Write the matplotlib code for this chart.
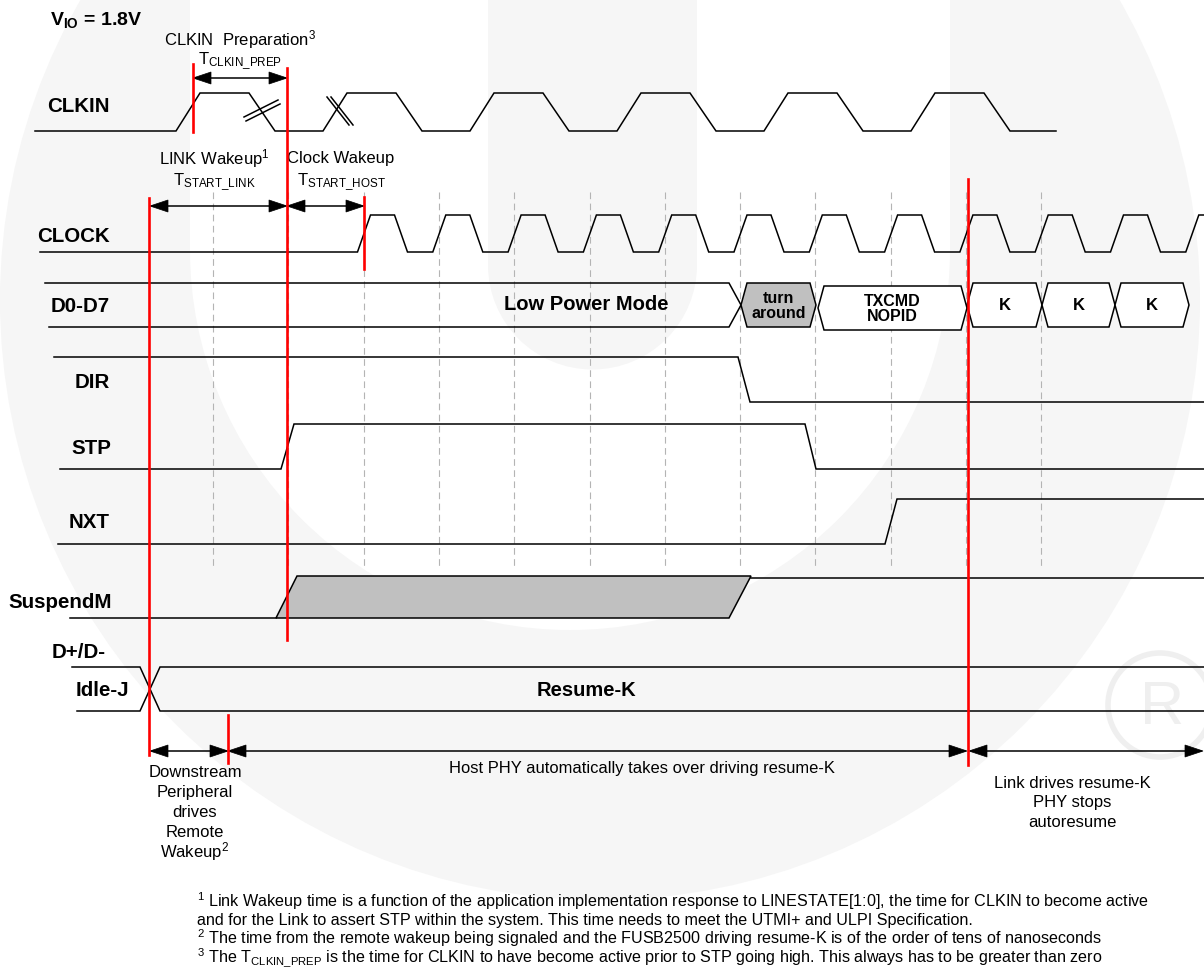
import matplotlib
matplotlib.use("Agg")
import matplotlib.pyplot as plt
from matplotlib.patches import Polygon, Circle, Rectangle
import numpy as np

plt.rcParams["font.family"] = ["Liberation Sans", "DejaVu Sans"]
plt.rcParams["mathtext.fontset"] = "custom"
plt.rcParams["mathtext.rm"] = "Liberation Sans"
plt.rcParams["mathtext.it"] = "Liberation Sans"
plt.rcParams["mathtext.bf"] = "Liberation Sans:bold"

# ---- data (x positions in diagram pixels) ----
signal_names = ["CLKIN", "CLOCK", "D0-D7", "DIR", "STP", "NXT", "SuspendM", "D+/D-", "Idle-J"]
clkin_rise_starts = [176, 323, 470, 617, 764, 911]
clock_rise_centers = [364 + 75.3 * k for k in range(12)]
grid_x = [213 + 75.3 * k for k in range(12)]
bus_labels = ["Low Power Mode", "turn\naround", "TXCMD\nNOPID", "K", "K", "K"]
bus_bounds = [(45, 741), (741, 816), (818, 967), (967, 1042), (1042, 1115), (1115, 1189)]
dir_fall = (738, 750)
stp_rise = (281, 294)
stp_fall = (805, 816)
nxt_rise = (885, 897)
susp_ramp = [(276, 297), (729, 751)]
dpdm_cross = (140, 160)
red_marks = [(193, 64, 132), (287, 68, 640), (149, 198, 755), (364, 197, 269),
             (228, 715, 763), (968, 179, 765)]
span_arrows_top = [(193, 287, 78), (150, 287, 206), (287, 364, 206)]
span_arrows_bottom = [(150, 228, 751), (228, 967, 751), (969, 1203, 751)]
remote_wakeup_lines = ["Downstream", "Peripheral", "drives", "Remote", "Wakeup$^2$"]
link_drives_lines = ["Link drives resume-K", "PHY stops", "autoresume"]
footnotes = [
    r"$^1$ Link Wakeup time is a function of the application implementation response to LINESTATE[1:0], the time for CLKIN to become active",
    "and for the Link to assert STP within the system. This time needs to meet the UTMI+ and ULPI Specification.",
    r"$^2$ The time from the remote wakeup being signaled and the FUSB2500 driving resume-K is of the order of tens of nanoseconds",
    r"$^3$ The T$_{\mathrm{CLKIN\_PREP}}$ is the time for CLKIN to have become active prior to STP going high. This always has to be greater than zero",
]

W, H = 1204, 973
fig = plt.figure(figsize=(W / 100, H / 100), dpi=100)
ax = fig.add_axes([0, 0, 1, 1])
ax.set_xlim(0, W)
ax.set_ylim(H, 0)
ax.axis("off")

# ---- faint watermark ----
wm = "#f6f6f6"
ax.add_patch(Circle((600, 300), 600, color=wm, lw=0, zorder=0))
ax.add_patch(Rectangle((190, -10), 760, 260, color="white", lw=0, zorder=0.1))
ax.add_patch(Circle((570, 250), 380, color="white", lw=0, zorder=0.1))
ax.add_patch(Rectangle((488, -10), 209, 275, color=wm, lw=0, zorder=0.2))
ax.add_patch(Circle((592.5, 265), 104.5, color=wm, lw=0, zorder=0.2))
ax.add_patch(Circle((1160, 705), 52, fill=False, ec="#efefef", lw=4, zorder=0.3))
ax.text(1162, 708, "R", fontsize=44, color="#efefef", ha="center", va="center", zorder=0.3)

LW = 1.1
K = "black"


def line(xs, ys, **kw):
    ax.plot(xs, ys, color=kw.pop("color", K), lw=kw.pop("lw", LW), solid_joinstyle="miter", **kw)


# ---- grid ----
for gx in grid_x:
    ax.plot([gx, gx], [192, 567], color="#b4b4b4", lw=0.8, ls=(0, (6, 4)), zorder=1)

# ---- CLKIN ----
hi, lo = 93, 131
xs, ys = [35], [lo]
for t in clkin_rise_starts:
    xs += [t, t + 24, t + 73, t + 99]
    ys += [lo, hi, hi, lo]
xs.append(1056)
ys.append(lo)
line(xs, ys, zorder=3)
# break marks
for d in (0, 4):
    line([244 + d * 0.5, 278 + d * 0.5], [117 + d, 100 + d], zorder=3)
    line([327 + d, 349 + d], [97, 125], zorder=3)

# ---- CLOCK ----
hi, lo = 215, 252
xs, ys = [40], [lo]
for c in clock_rise_centers:
    xs += [c - 6.5, c + 6.5, c + 30.5, c + 43.5]
    ys += [lo, hi, hi, lo]
xs, ys = np.array(xs), np.array(ys)
line(xs, ys, zorder=3)

# ---- D0-D7 bus ----
yt, yb, ym = 283, 327, 305
x0, x1 = bus_bounds[0]
line([x0, x1 - 12, x1, x1 - 12, x0 + 4], [yt, yt, ym, yb, yb], zorder=3)
ax.text(586, ym, bus_labels[0], fontsize=14.5, fontweight="bold", ha="center", va="center", zorder=4)
for (a, b), lab in zip(bus_bounds[1:], bus_labels[1:]):
    t, bt = (yt, yb) if lab != "TXCMD\nNOPID" else (286, 330)
    m = (t + bt) / 2
    fill = "#c0c0c0" if lab.startswith("turn") else "white"
    ax.add_patch(Polygon([(a, m), (a + 6, t), (b - 6, t), (b, m), (b - 6, bt), (a + 6, bt)],
                         closed=True, fc=fill, ec=K, lw=LW, zorder=3))
    ax.text((a + b) / 2, m + 1, lab, fontsize=11.5 if "\n" in lab else 12, fontweight="bold",
            ha="center", va="center", linespacing=1.05, zorder=4)

# ---- DIR / STP / NXT ----
line([54, dir_fall[0], dir_fall[1], W], [357, 357, 402, 402], zorder=3)
line([60, stp_rise[0], stp_rise[1], stp_fall[0], stp_fall[1], W], [469, 469, 424, 424, 469, 469], zorder=3)
line([58, nxt_rise[0], nxt_rise[1], W], [544, 544, 499, 499], zorder=3)

# ---- SuspendM ----
line([70, susp_ramp[0][0]], [618, 618], zorder=3)
ax.add_patch(Polygon([(susp_ramp[0][0], 618), (susp_ramp[0][1], 576), (susp_ramp[1][1], 576),
                      (susp_ramp[1][0], 618)], closed=True, fc="#c0c0c0", ec=K, lw=LW, zorder=3))
line([susp_ramp[1][1], W], [578, 578], zorder=3)

# ---- D+/D- ----
a, b = dpdm_cross
line([72, a, b, W], [667, 667, 711, 711], zorder=3)
line([77, a, b, W], [711, 711, 667, 667], zorder=3)
ax.text(586, 690, "Resume-K", fontsize=14.5, fontweight="bold", ha="center", va="center", zorder=4)

# ---- signal labels ----
label_pos = {"CLKIN": (47, 107), "CLOCK": (37, 237), "D0-D7": (51, 306), "DIR": (75, 382),
             "STP": (71, 448), "NXT": (69, 522), "SuspendM": (8, 602), "D+/D-": (52, 652),
             "Idle-J": (76, 690)}
for name in signal_names:
    x, y = label_pos[name]
    ax.text(x, y, name, fontsize=14.8, fontweight="bold", ha="left", va="center", zorder=4)


# ---- arrows ----
def head(tip, y, direction):
    L, h = 18, 6
    ax.add_patch(Polygon([(tip, y), (tip - direction * L, y - h), (tip - direction * L, y + h)],
                         closed=True, fc=K, ec=K, lw=0.5, zorder=5))


for a, b, y in span_arrows_top + span_arrows_bottom:
    line([a + 2, b - 2], [y, y], zorder=5)
    head(a, y, -1)
    head(b, y, 1)

# ---- red markers ----
for x, y0, y1 in red_marks:
    ax.plot([x, x], [y0, y1], color="#ff0000", lw=1.9, zorder=6)

# ---- annotations ----
NT = 12
ax.text(50, 20, r"V$_{\mathbf{IO}}$ = 1.8V", fontsize=14, fontweight="bold", ha="left", va="center")
ax.text(240, 40, r"CLKIN  Preparation$^3$", fontsize=NT, ha="center", va="center")
ax.text(240, 61, r"T$_{\mathrm{CLKIN\_PREP}}$", fontsize=NT, ha="center", va="center")
ax.text(214, 159, r"LINK Wakeup$^1$", fontsize=NT, ha="center", va="center")
ax.text(214, 182, r"T$_{\mathrm{START\_LINK}}$", fontsize=NT, ha="center", va="center")
ax.text(341, 159, "Clock Wakeup", fontsize=NT, ha="center", va="center")
ax.text(341, 182, r"T$_{\mathrm{START\_HOST}}$", fontsize=NT, ha="center", va="center")
for i, s in enumerate(remote_wakeup_lines):
    ax.text(195, 777 + 20 * i, s, fontsize=NT, ha="center", va="baseline")
ax.text(642, 773, "Host PHY automatically takes over driving resume-K", fontsize=11.9,
        ha="center", va="baseline")
for i, s in enumerate(link_drives_lines):
    ax.text(1072, 788 + 19.5 * i, s, fontsize=NT, ha="center", va="baseline")

for i, s in enumerate(footnotes):
    ax.text(197, 907 + 18.4 * i, s, fontsize=11.6, ha="left", va="baseline")

fig.savefig("out.png", dpi=100)
